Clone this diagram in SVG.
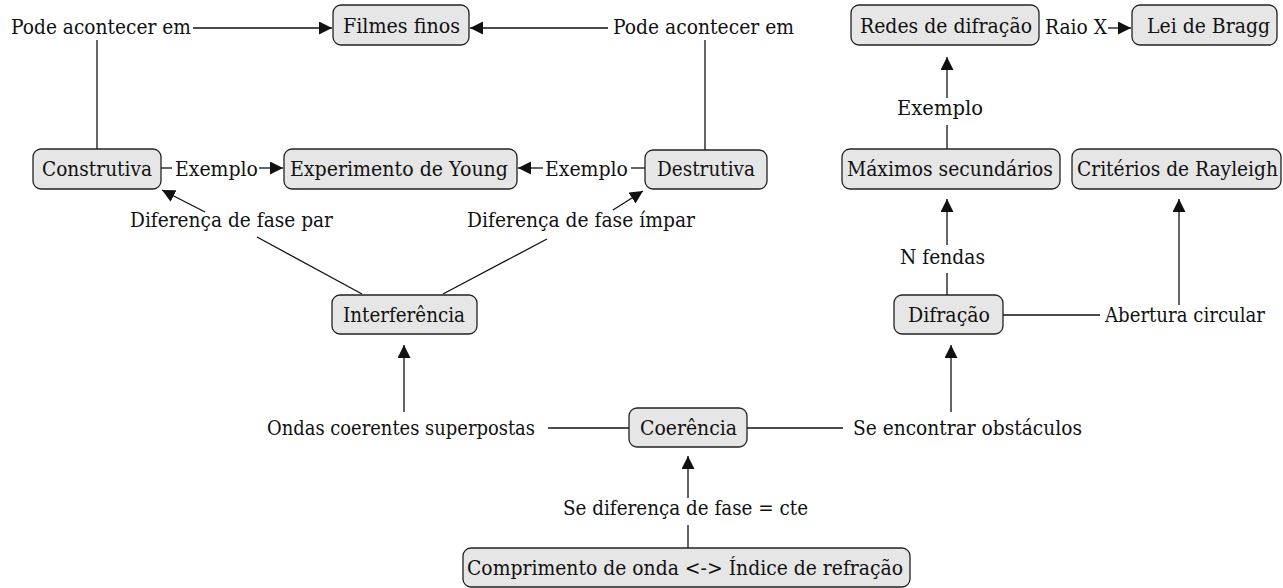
<svg xmlns="http://www.w3.org/2000/svg" width="1283" height="588" viewBox="0 0 1283 588">
<style>
text{font-family:"DejaVu Serif",serif;font-size:21px;fill:#111}
.box{fill:#e6e6e6;stroke:#222;stroke-width:1.3}
.ln{stroke:#111;stroke-width:1.3;fill:none}
.ar{marker-end:url(#ah)}
</style>
<defs>
<marker id="ah" markerUnits="userSpaceOnUse" markerWidth="14" markerHeight="14" refX="13" refY="6.5" orient="auto">
<path d="M0,0 L13,6.5 L0,13 z" fill="#111"/>
</marker>
</defs>
<rect width="1283" height="588" fill="#fff"/>
<g id="connectors">
<line class="ln ar" x1="193" y1="28" x2="332" y2="28"/>
<line class="ln" x1="97" y1="40" x2="97" y2="149"/>
<line class="ln ar" x1="608" y1="28" x2="470" y2="28"/>
<line class="ln" x1="705" y1="40" x2="705" y2="150"/>
<line class="ln" x1="161" y1="168" x2="172" y2="168"/>
<line class="ln ar" x1="259" y1="168" x2="283" y2="168"/>
<line class="ln" x1="645" y1="168" x2="631" y2="168"/>
<line class="ln ar" x1="543" y1="168" x2="518" y2="168"/>
<line class="ln ar" x1="205" y1="212" x2="162" y2="190"/>
<line class="ln" x1="257" y1="237" x2="362" y2="294"/>
<line class="ln ar" x1="613" y1="210" x2="643" y2="191"/>
<line class="ln" x1="547" y1="239" x2="443" y2="294"/>
<line class="ln ar" x1="404" y1="412" x2="404" y2="345"/>
<line class="ln" x1="548" y1="428" x2="629" y2="428"/>
<line class="ln" x1="747" y1="428" x2="843" y2="428"/>
<line class="ln ar" x1="951" y1="412" x2="951" y2="345"/>
<line class="ln ar" x1="688" y1="498" x2="688" y2="456"/>
<line class="ln" x1="688" y1="525" x2="688" y2="548"/>
<line class="ln" x1="947" y1="295" x2="947" y2="273"/>
<line class="ln ar" x1="947" y1="245" x2="947" y2="199"/>
<line class="ln" x1="1003" y1="315" x2="1100" y2="315"/>
<line class="ln ar" x1="1179" y1="305" x2="1179" y2="199"/>
<line class="ln" x1="947" y1="149" x2="947" y2="125"/>
<line class="ln ar" x1="947" y1="98" x2="947" y2="57"/>
<line class="ln ar" x1="1108" y1="28" x2="1131" y2="28"/>
</g>
<g id="labels">
<text x="11" y="34" textLength="180" lengthAdjust="spacingAndGlyphs">Pode acontecer em</text>
<text x="613" y="34" textLength="181" lengthAdjust="spacingAndGlyphs">Pode acontecer em</text>
<text x="175" y="176" textLength="83" lengthAdjust="spacingAndGlyphs">Exemplo</text>
<text x="545" y="176" textLength="83" lengthAdjust="spacingAndGlyphs">Exemplo</text>
<text x="130" y="227" textLength="203" lengthAdjust="spacingAndGlyphs">Diferença de fase par</text>
<text x="467" y="227" textLength="228" lengthAdjust="spacingAndGlyphs">Diferença de fase ímpar</text>
<text x="267" y="435" textLength="268" lengthAdjust="spacingAndGlyphs">Ondas coerentes superpostas</text>
<text x="853" y="435" textLength="229" lengthAdjust="spacingAndGlyphs">Se encontrar obstáculos</text>
<text x="563" y="515" textLength="245" lengthAdjust="spacingAndGlyphs">Se diferença de fase = cte</text>
<text x="900" y="264" textLength="85" lengthAdjust="spacingAndGlyphs">N fendas</text>
<text x="1105" y="322" textLength="160" lengthAdjust="spacingAndGlyphs">Abertura circular</text>
<text x="897" y="115" textLength="86" lengthAdjust="spacingAndGlyphs">Exemplo</text>
<text x="1045" y="34" textLength="62" lengthAdjust="spacingAndGlyphs">Raio X</text>
</g>
<g id="n-filmes"><rect class="box" x="333" y="5" width="136" height="40" rx="8"/><text x="343" y="33" textLength="117" lengthAdjust="spacingAndGlyphs">Filmes finos</text></g>
<g id="n-redes"><rect class="box" x="851" y="5" width="188" height="40" rx="8"/><text x="860" y="33" textLength="172" lengthAdjust="spacingAndGlyphs">Redes de difração</text></g>
<g id="n-bragg"><rect class="box" x="1132" y="5" width="145" height="40" rx="8"/><text x="1147" y="33" textLength="123" lengthAdjust="spacingAndGlyphs">Lei de Bragg</text></g>
<g id="n-construtiva"><rect class="box" x="33" y="149" width="128" height="40" rx="8"/><text x="42" y="176" textLength="110" lengthAdjust="spacingAndGlyphs">Construtiva</text></g>
<g id="n-young"><rect class="box" x="284" y="149" width="233" height="40" rx="8"/><text x="290" y="176" textLength="218" lengthAdjust="spacingAndGlyphs">Experimento de Young</text></g>
<g id="n-destrutiva"><rect class="box" x="645" y="150" width="122" height="39" rx="8"/><text x="657" y="176" textLength="98" lengthAdjust="spacingAndGlyphs">Destrutiva</text></g>
<g id="n-maximos"><rect class="box" x="842" y="149" width="218" height="40" rx="8"/><text x="847" y="176" textLength="206" lengthAdjust="spacingAndGlyphs">Máximos secundários</text></g>
<g id="n-rayleigh"><rect class="box" x="1072" y="149" width="209" height="40" rx="8"/><text x="1077" y="176" textLength="201" lengthAdjust="spacingAndGlyphs">Critérios de Rayleigh</text></g>
<g id="n-interferencia"><rect class="box" x="332" y="295" width="145" height="39" rx="8"/><text x="343" y="322" textLength="122" lengthAdjust="spacingAndGlyphs">Interferência</text></g>
<g id="n-difracao"><rect class="box" x="894" y="295" width="109" height="39" rx="8"/><text x="908" y="322" textLength="82" lengthAdjust="spacingAndGlyphs">Difração</text></g>
<g id="n-coerencia"><rect class="box" x="629" y="408" width="118" height="39" rx="8"/><text x="640" y="435" textLength="97" lengthAdjust="spacingAndGlyphs">Coerência</text></g>
<g id="n-comprimento"><rect class="box" x="463" y="548" width="447" height="39" rx="8"/><text x="467" y="575" textLength="436" lengthAdjust="spacingAndGlyphs">Comprimento de onda &lt;-&gt; Índice de refração</text></g>
</svg>
